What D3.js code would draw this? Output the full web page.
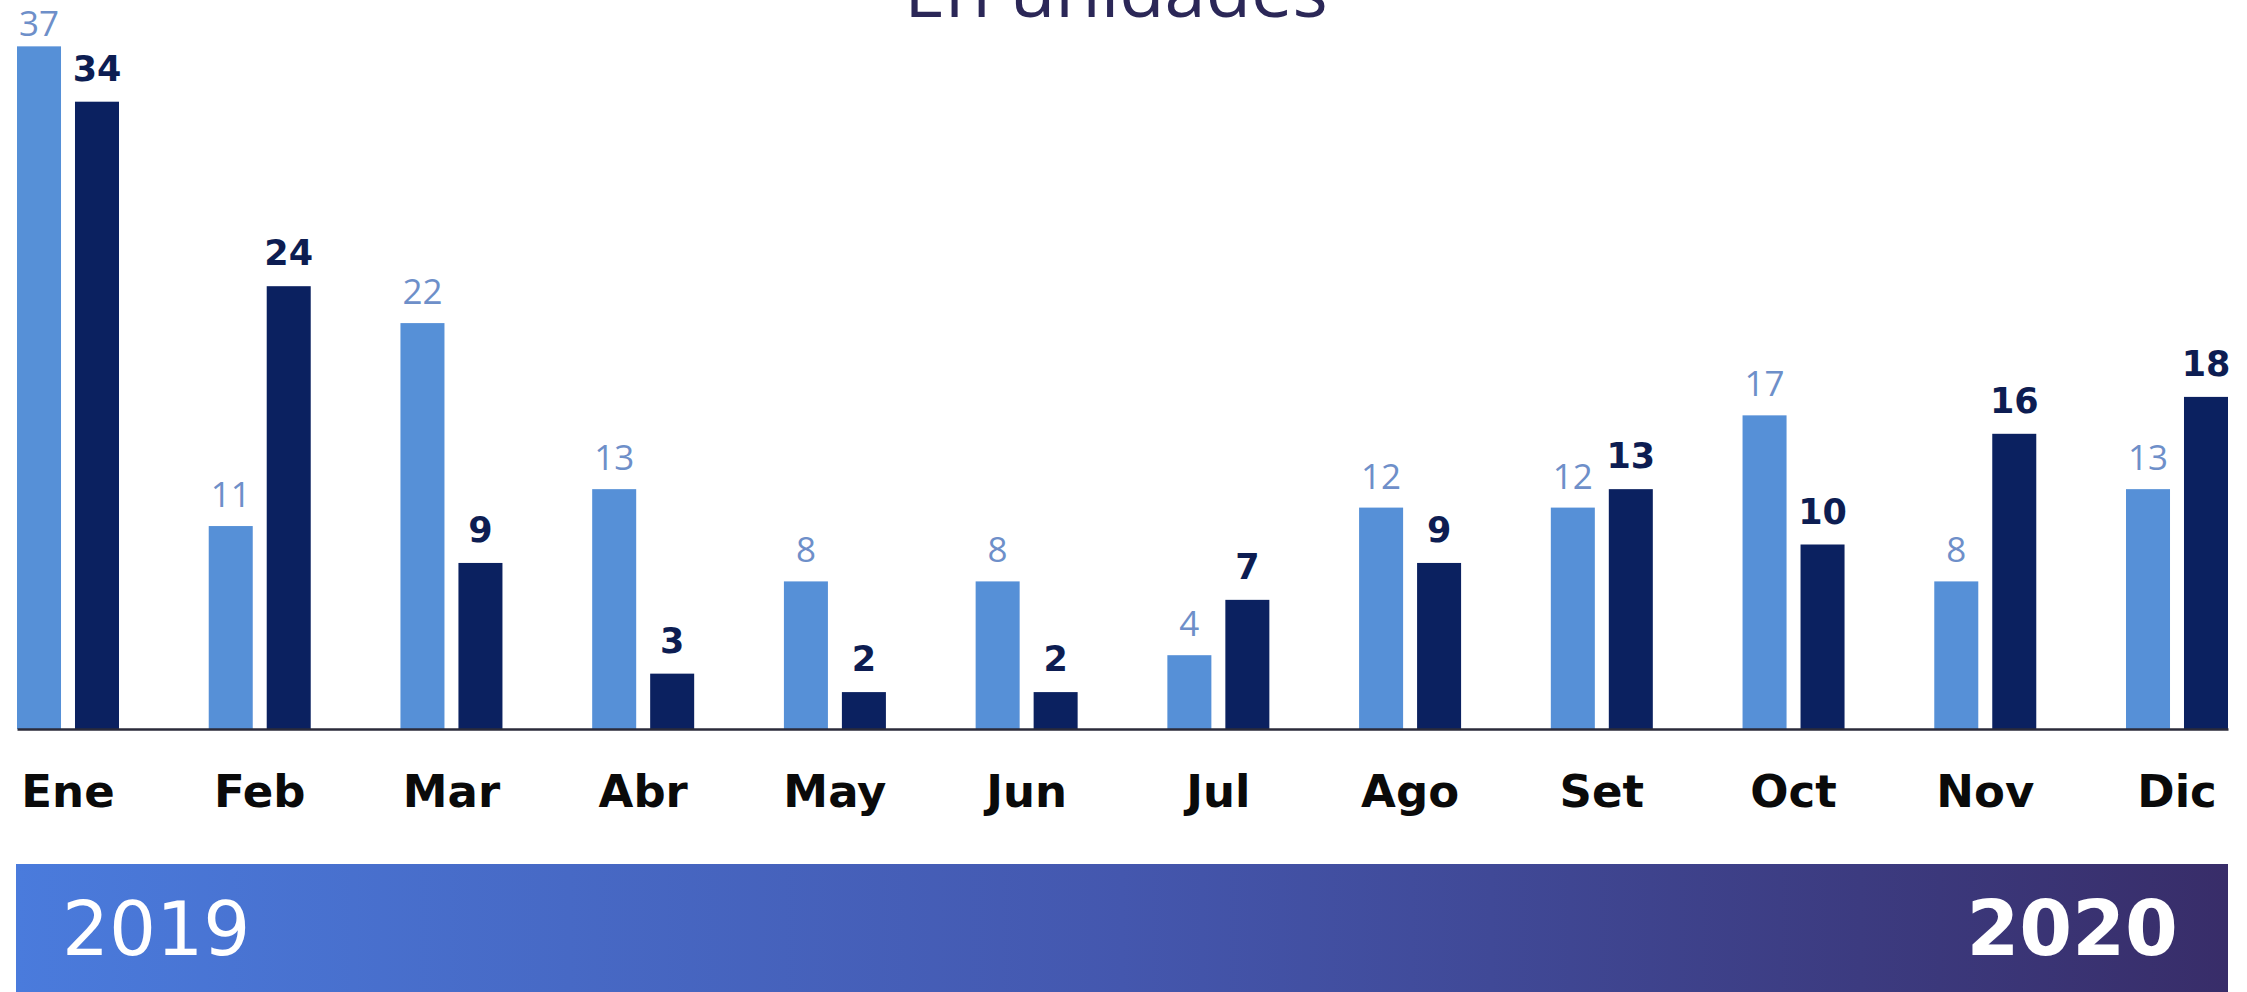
<!DOCTYPE html>
<html>
<head>
<meta charset="utf-8">
<script src="https://cdn.jsdelivr.net/npm/d3@7"></script>
<style>
  body { margin: 0; background: #ffffff; }
  svg { display: block; }
</style>
</head>
<body>
<script>
//------------ DATA ----------------------
const months = ["Ene", "Feb", "Mar", "Abr", "May", "Jun", "Jul", "Ago", "Set", "Oct", "Nov", "Dic"];
const years = ["2019", "2020"];
const values2019 = [37, 11, 22, 13, 8, 8, 4, 12, 12, 17, 8, 13];
const values2020 = [34, 24, 9, 3, 2, 2, 7, 9, 13, 10, 16, 18];
const title = "En unidades";
//----------------------------------------

//------------ GLOBAL VARIABLES ----------------------
const width = 2247,
    height = 992;

const baseY = 729;          // bottom of the bars
const pxPerUnit = 18.45;

const colors = { "2019": "#5690d7", "2020": "#0b2160" };
const labelColors = { "2019": "#6e8fc9", "2020": "#0d1d52" };
//----------------------------------------------------

var rows = months.map(function(m, i) {
    return { month: m, "2019": values2019[i], "2020": values2020[i] };
});

//-----------SET UP SVG -------------------
var svg = d3.select("body").append("svg")
    .attr("width", width)
    .attr("height", height);

//------------SCALES ----------------------
var x0 = d3.scaleBand()
    .domain(months)
    .range([17, 2228])
    .paddingInner(0.468)
    .paddingOuter(0);

var x1 = d3.scaleBand()
    .domain(years)
    .range([0, x0.bandwidth()])
    .paddingInner(0.241);

var y = d3.scaleLinear()
    .domain([0, 37])
    .range([baseY, baseY - 37 * pxPerUnit]);

//------------TITLE (cut at the top, as in the source) ----------------------
svg.append("text")
    .attr("x", 1116)
    .attr("y", 17)
    .attr("text-anchor", "middle")
    .style("font-family", "'Open Sans', sans-serif")
    .style("font-weight", 400)
    .style("font-size", "74px")
    .style("fill", "#2b2757")
    .text(title);

//------------BARS ----------------------
var groups = svg.append("g").selectAll("g")
    .data(rows)
    .join("g")
    .attr("transform", d => "translate(" + x0(d.month) + ",0)");

groups.selectAll("rect")
    .data(d => years.map(k => ({ key: k, value: d[k] })))
    .join("rect")
    .attr("x", d => x1(d.key))
    .attr("y", d => y(d.value))
    .attr("width", x1.bandwidth())
    .attr("height", d => y(0) - y(d.value))
    .attr("fill", d => colors[d.key]);

// value labels: light ones regular, dark ones heavy
// (kept below the top edge so the tallest one is not clipped)
groups.selectAll("text.val")
    .data(d => years.map(k => ({ key: k, value: d[k] })))
    .join("text")
    .attr("class", "val")
    .attr("x", d => x1(d.key) + x1.bandwidth() / 2)
    .attr("y", d => Math.max(y(d.value) - (d.key === "2019" ? 19 : 21), 36))
    .attr("text-anchor", "middle")
    .style("font-family", d => d.key === "2019" ? "'Open Sans', sans-serif" : "'DejaVu Sans', sans-serif")
    .style("font-weight", d => d.key === "2019" ? 400 : 700)
    .style("font-size", "35px")
    .style("fill", d => labelColors[d.key])
    .text(d => d.value);

//------------X AXIS ----------------------
var xAxis = svg.append("g")
    .attr("transform", "translate(0," + baseY + ")")
    .call(d3.axisBottom(x0).tickSize(0).tickSizeOuter(0).tickPadding(46));

xAxis.select(".domain")
    .attr("stroke", "#2b2b3a")
    .attr("stroke-width", 2.5);

xAxis.selectAll("text")
    .style("font-family", "'DejaVu Sans', sans-serif")
    .style("font-weight", 700)
    .style("font-size", "45px")
    .style("fill", "#0a0a0a");

//------------YEAR BAND ----------------------
var grad = svg.append("defs").append("linearGradient")
    .attr("id", "band")
    .attr("x1", "0%").attr("x2", "100%")
    .attr("y1", "0%").attr("y2", "0%");
grad.append("stop").attr("offset", "0%").attr("stop-color", "#4a7bdc");
grad.append("stop").attr("offset", "50%").attr("stop-color", "#4457ae");
grad.append("stop").attr("offset", "100%").attr("stop-color", "#382d69");

svg.append("rect")
    .attr("x", x0.range()[0] - 1)
    .attr("y", 864)
    .attr("width", x0.range()[1] - x0.range()[0] + 1)
    .attr("height", height - 864)
    .attr("fill", "url(#band)");

svg.append("text")
    .attr("x", 62)
    .attr("y", 955)
    .style("font-family", "'DejaVu Sans', sans-serif")
    .style("font-size", "74px")
    .style("fill", "#ffffff")
    .text(years[0]);

svg.append("text")
    .attr("x", 2178)
    .attr("y", 955)
    .attr("text-anchor", "end")
    .style("font-family", "'DejaVu Sans', sans-serif")
    .style("font-weight", 700)
    .style("font-size", "76px")
    .style("fill", "#ffffff")
    .text(years[1]);
</script>
</body>
</html>
